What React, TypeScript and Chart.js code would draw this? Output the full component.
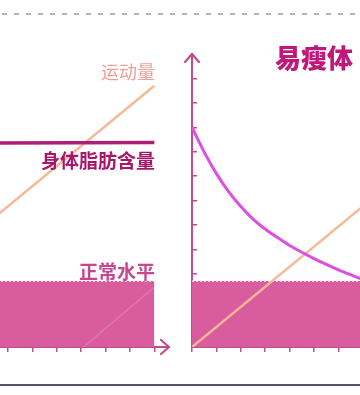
import React, { useEffect, useRef } from 'react';
import { Chart, registerables } from 'chart.js';

Chart.register(...registerables);

// ---- data (axis units) ----
const xAxisMax = 13.6;
const yAxisMax = 12;
const normalLevelX = [0, 13];
const normalLevelY = [2.7, 2.7];
const exerciseX = [0, 13];
const exerciseY = [0, 10.7];
const ghostX = [10.1, 13];
const ghostY = [0, 2.45];
const fatLeftX = [0, 6.5, 13];
const fatLeftY = [8.34, 8.35, 8.38];
const fatRightX = [0, 0.5, 1, 1.5, 2, 2.5, 3, 3.5, 4, 4.5, 5, 5.5, 6, 6.5, 7, 7.5];
const fatRightY = [9, 7.98, 7.1, 6.36, 5.75, 5.24, 4.83, 4.48, 4.16, 3.88, 3.62, 3.38, 3.16, 2.96, 2.77, 2.61];

const labelExercise = '运动量';
const labelFat = '身体脂肪含量';
const labelNormal = '正常水平';
const labelTitle = '易瘦体';

const AXIS = '#c24b8c';
const PINK = '#d95c9f';
const ORANGE = '#f7b996';
const FAT_DARK = '#ad1f74';
const FAT_BRIGHT = '#dc4fe0';

const pts = (xs: number[], ys: number[]) => xs.map((x, i) => ({ x, y: ys[i] }));

const arrowPlugin = {
  id: 'arrows',
  afterDraw(chart: any) {
    const { ctx, chartArea } = chart;
    const { left, right, top, bottom } = chartArea;
    ctx.save();
    ctx.strokeStyle = AXIS;
    ctx.lineWidth = 2.2;
    ctx.lineCap = 'round';
    ctx.lineJoin = 'round';
    ctx.beginPath();
    ctx.moveTo(left - 7, top + 8);
    ctx.lineTo(left, top);
    ctx.lineTo(left + 7, top + 8);
    ctx.stroke();
    ctx.beginPath();
    ctx.moveTo(right - 8, bottom - 7);
    ctx.lineTo(right, bottom);
    ctx.lineTo(right - 8, bottom + 7);
    ctx.stroke();
    ctx.restore();
  },
};

function buildChart(canvas: HTMLCanvasElement, datasets: any[]) {
  return new Chart(canvas, {
    type: 'scatter',
    data: { datasets },
    plugins: [arrowPlugin],
    options: {
      animation: false,
      responsive: true,
      maintainAspectRatio: false,
      layout: { padding: { top: 10, right: 10, left: 0, bottom: 0 } },
      plugins: { legend: { display: false }, tooltip: { enabled: false } },
      scales: {
        x: {
          type: 'linear',
          min: 0,
          max: xAxisMax,
          afterFit: (s: any) => {
            s.height = 10;
          },
          ticks: { display: false, stepSize: 1, includeBounds: false },
          grid: { drawOnChartArea: false, drawTicks: true, tickLength: 5, color: AXIS, lineWidth: 1.5 },
          border: { color: AXIS, width: 2 },
        },
        y: {
          type: 'linear',
          min: 0,
          max: yAxisMax,
          afterFit: (s: any) => {
            s.width = 10;
          },
          afterBuildTicks: (s: any) => {
            s.ticks = s.ticks.filter((t: any) => t.value <= 11);
          },
          ticks: { display: false, stepSize: 1, includeBounds: false },
          grid: { drawOnChartArea: false, drawTicks: true, tickLength: -5, color: AXIS, lineWidth: 1.5 },
          border: { color: AXIS, width: 2 },
        },
      },
    } as any,
  });
}

const lineDs = (data: any[], color: string, width: number, order: number, extra: any = {}) => ({
  data,
  showLine: true,
  borderColor: color,
  borderWidth: width,
  pointRadius: 0,
  fill: false,
  order,
  ...extra,
});

export default function App() {
  const leftRef = useRef<HTMLCanvasElement>(null);
  const rightRef = useRef<HTMLCanvasElement>(null);

  useEffect(() => {
    const normal = () =>
      lineDs(pts(normalLevelX, normalLevelY), 'rgba(255,225,240,0.9)', 1.5, 5, {
        fill: 'origin',
        backgroundColor: PINK,
        borderDash: [2, 2],
      });
    const left = buildChart(leftRef.current!, [
      normal(),
      lineDs(pts(ghostX, ghostY), 'rgba(255,225,235,0.18)', 1.5, 4),
      lineDs(pts(exerciseX, exerciseY), ORANGE, 2.5, 2),
      lineDs(pts(fatLeftX, fatLeftY), FAT_DARK, 3.5, 1, { tension: 0.4 }),
    ]);
    const right = buildChart(rightRef.current!, [
      normal(),
      lineDs(pts(exerciseX, exerciseY), ORANGE, 2.5, 2),
      lineDs(pts(fatRightX, fatRightY), FAT_BRIGHT, 3, 1, { cubicInterpolationMode: 'monotone' }),
    ]);
    return () => {
      left.destroy();
      right.destroy();
    };
  }, []);

  const cjk = '"Noto Sans CJK SC", "Noto Sans", sans-serif';
  const txt = (extra: React.CSSProperties): React.CSSProperties => ({
    position: 'absolute',
    fontFamily: cjk,
    whiteSpace: 'nowrap',
    lineHeight: 1,
    ...extra,
  });

  return (
    <div
      style={{
        position: 'fixed',
        left: 0,
        top: 0,
        width: 360,
        height: 395,
        overflow: 'hidden',
        background: '#ffffff',
      }}
    >
      <div
        style={{
          position: 'absolute',
          left: 0,
          top: 13,
          width: 360,
          height: 2,
          background: 'repeating-linear-gradient(to right, transparent 0 2px, #b4b4b4 2px 7px, transparent 7px 12px)',
        }}
      />
      <div style={{ position: 'absolute', left: -173, top: 44, width: 352, height: 313 }}>
        <canvas ref={leftRef} />
      </div>
      <div style={{ position: 'absolute', left: 182, top: 44, width: 352, height: 313 }}>
        <canvas ref={rightRef} />
      </div>
      <div style={txt({ right: 205, top: 62, fontSize: 18, color: '#f0a197', fontWeight: 400 })}>{labelExercise}</div>
      <div style={txt({ right: 205, top: 150, fontSize: 19, color: '#a8166a', fontWeight: 700 })}>{labelFat}</div>
      <div style={txt({ right: 205, top: 261, fontSize: 19, color: '#c6468f', fontWeight: 700 })}>{labelNormal}</div>
      <div style={txt({ left: 275, top: 44, fontSize: 26, color: '#c0187a', fontWeight: 900 })}>{labelTitle}</div>
      <div style={{ position: 'absolute', left: 0, top: 384, width: 360, height: 2, background: '#5a5070' }} />
    </div>
  );
}
